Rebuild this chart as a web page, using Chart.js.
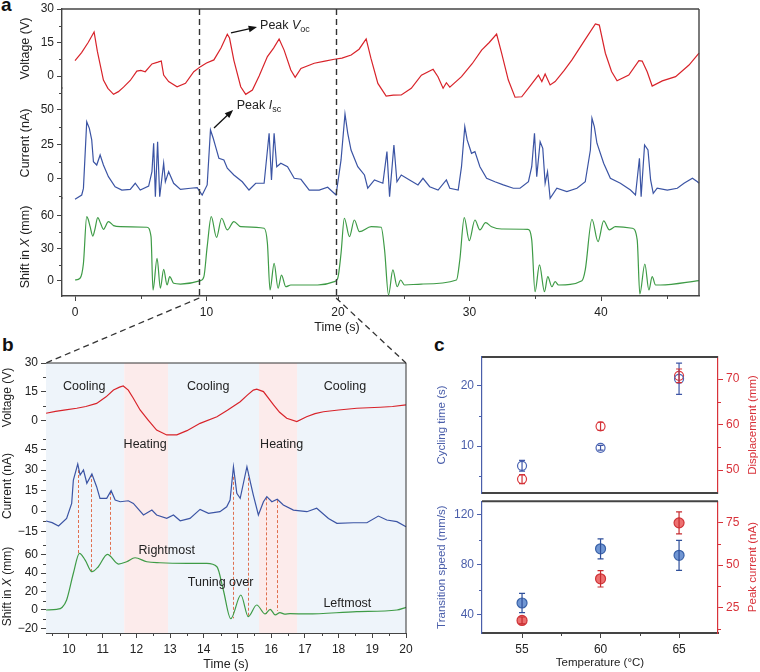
<!DOCTYPE html>
<html lang="en">
<head>
<meta charset="UTF-8">
<title>Voltage, current and shift traces</title>
<script src="https://cdn.jsdelivr.net/npm/chart.js"></script>
<style>
  html, body { margin: 0; padding: 0; background: #fff; }
  body { width: 760px; height: 672px; position: relative; overflow: hidden; font-family: "Liberation Sans", Arial, sans-serif; }
  canvas { position: absolute; }
  .tag { position: absolute; font-weight: bold; font-size: 19px; line-height: 22px; color: #111; }
</style>
</head>
<body>
<div class="tag" style="left:1px;top:-6px">a</div>
<div class="tag" style="left:2px;top:334px">b</div>
<div class="tag" style="left:434px;top:334px">c</div>
<canvas id="chartA" width="760" height="345" style="left:0;top:0"></canvas>
<canvas id="chartB" width="430" height="332" style="left:0;top:340px"></canvas>
<canvas id="chartC1" width="330" height="160" style="left:430px;top:340px"></canvas>
<canvas id="chartC2" width="330" height="177" style="left:430px;top:495px"></canvas>
<canvas id="overlay" width="760" height="672" style="left:0;top:0;pointer-events:none"></canvas>

<script>
// ---------- panel a data ----------
const aVoltT = [0, 0.5, 1.0, 1.45, 1.7, 2.16, 2.5, 2.93, 3.3, 3.69, 4.2, 4.7, 5.0, 5.34, 5.85, 6.3, 6.56, 6.74, 7.12, 7.76, 8.4, 9.03, 9.54, 10.0, 10.56, 11.1, 11.58, 11.75, 12.08, 12.6, 12.98, 13.49, 14.0, 14.63, 15.1, 15.52, 15.9, 16.41, 16.74, 17.18, 18.19, 19.0, 19.72, 20.3, 21.0, 21.6, 22.14, 22.5, 23.03, 23.66, 24.2, 24.81, 25.57, 26.34, 27.23, 27.6, 27.99, 28.24, 28.5, 29.39, 30.2, 30.92, 31.5, 32.06, 32.44, 32.95, 33.46, 33.97, 34.6, 35.24, 35.5, 35.75, 36.13, 36.51, 37.2, 37.79, 38.8, 39.57, 39.87, 40.33, 40.8, 41.22, 42.11, 42.88, 43.13, 43.51, 43.89, 44.66, 45.67, 46.69, 47.45];
const aVolt  = [6.9, 10.5, 15, 19.7, 11, -1.8, -5.5, -8.2, -7, -5, -2, 2.2, 2.5, 1.9, 5.4, 6.2, 6.7, 0.4, -2.5, -4.8, -3.3, 1.9, 4.2, 5.8, 7.2, 12.5, 18.7, 17, 7, -4.8, -8.2, -6.3, 0, 8.7, 12.5, 16.6, 11.6, 2.7, -0.6, 3.4, 5.7, 6.7, 7.5, 8, 9.4, 12, 16.6, 8, -3.3, -9, -8.6, -8.5, -5.5, 0.4, 3, -0.3, -5.5, -3, -5, -0.3, 5.5, 11.6, 15, 18.8, 10.2, -1.8, -9.5, -9.3, -4.5, 0.4, -2.5, 0.9, -4, -2.5, 2.5, 7.2, 16.4, 23.3, 22.8, 10.2, 2, -2.1, 0.4, 6.9, 6.7, 1.9, -4.5, -2.2, -0.3, 4.9, 10.2];

const aCurT = [0, 0.51, 0.64, 0.89, 1.09, 1.27, 1.4, 1.65, 1.91, 2.16, 2.54, 3.05, 3.56, 4.2, 4.58, 4.96, 5.6, 5.85, 5.98, 6.11, 6.28, 6.44, 6.74, 6.87, 7.12, 7.5, 8.02, 8.78, 9.29, 9.67, 10.05, 10.3, 10.51, 10.69, 10.94, 11.32, 11.58, 12.08, 12.72, 13.23, 13.74, 14.38, 14.76, 14.94, 15.14, 15.34, 15.65, 16.16, 16.67, 17.18, 17.81, 18.57, 19.21, 19.85, 20.23, 20.53, 20.74, 20.99, 21.5, 22.01, 22.26, 22.77, 23.41, 23.72, 23.92, 24.25, 24.48, 24.81, 25.44, 26.08, 26.46, 26.97, 27.61, 28.24, 28.5, 29.14, 29.39, 29.64, 29.82, 30.15, 30.41, 30.79, 31.3, 31.93, 32.57, 33.33, 33.84, 34.48, 34.73, 34.94, 35.11, 35.37, 35.57, 35.75, 35.93, 36.13, 36.64, 37.4, 38.17, 38.8, 39.19, 39.31, 39.49, 39.69, 40.2, 40.71, 41.47, 42.24, 42.62, 42.92, 43.05, 43.31, 43.57, 43.77, 43.97, 44.27, 45.04, 45.8, 46.31, 46.95, 47.33, 47.45];
const aCur  = [-14.7, -11.6, -6.8, 41.5, 36.7, 28.3, 12.5, 10.1, 17.4, 10.1, 1.7, -5.6, -8, -7.5, -3.1, -8, -5.1, 5.3, 25.9, -12.8, 27, -12.8, 11.4, -2, 5.3, -3.1, -7.5, -6.7, -6.3, -11.6, -4.3, 35.5, 29.5, 23.4, 15, 13.8, 7.8, 2.9, -2, -8, -3.1, -3.1, 33.1, -0.7, 33.1, 8.9, 11.4, 8.9, 0.5, -0.2, -8, -8, -6, -11.6, 13.8, 47.1, 33.1, 21, 8.9, 2.9, -6.7, -0.7, -3.1, 19.8, -12.8, 24.6, -2, 2.9, -0.7, -4.3, 0.5, -5.6, -8, -0.7, -6.7, -8, 8.9, 37.9, 28.3, 18.6, 19.8, 8.9, 0.5, -2, -4.3, -6.7, -6.7, -2, 8.9, 33.1, 1.7, 27, 22.2, -3.1, 5.3, -14, -6.7, -9.2, -6.7, -2, 21, 44, 37.9, 25.9, 11.4, 0.5, -3.1, -8, -11.6, 15, -12.8, 24.6, 21, -0.7, -10.4, -6.7, -8, -6.7, -3.1, 0.5, -2, -3.1];

const aShiftT = [0, 0.38, 0.64, 0.89, 1.0, 1.15, 1.35, 1.5, 1.73, 1.95, 2.16, 2.54, 2.93, 3.44, 5.47, 5.78, 5.93, 6.24, 6.49, 6.74, 7.0, 7.2, 7.5, 8.02, 9.54, 9.8, 10.05, 10.36, 10.76, 11.15, 11.58, 12.08, 12.6, 14.38, 14.63, 14.83, 15.14, 15.44, 15.7, 16.03, 16.41, 18.45, 19.72, 19.98, 20.23, 20.48, 20.87, 21.24, 21.63, 22.52, 23.28, 23.54, 23.84, 24.17, 24.5, 24.76, 25.06, 26.34, 29.01, 29.26, 29.6, 29.98, 30.41, 30.79, 31.22, 31.68, 32.44, 34.43, 34.73, 34.98, 35.32, 35.7, 35.95, 36.26, 36.51, 36.77, 38.55, 38.8, 39.31, 39.77, 40.2, 40.64, 41.09, 42.37, 42.75, 42.95, 43.33, 43.64, 43.89, 44.15, 44.53, 47.45];
const aShift  = [0.9, 2.5, 16.3, 59.4, 57, 50.1, 41.5, 47, 58.5, 53, 47.7, 54.8, 51.1, 50.1, 49.6, 40.9, -8.3, 21, -6.7, 10.8, -3.7, 4, -2.1, -2.8, 0.3, 4, 31.7, 59.4, 40.3, 57.9, 47.1, 54.8, 50.1, 48.7, 34.8, -8.3, 16.3, -6.7, 5.5, -5.3, -3.7, -3.7, -0.6, 2.5, 25.6, 57.9, 40.9, 56.3, 45.5, 50.1, 49.6, 28.6, -12.9, 10.2, -5.3, 0.9, -3.7, -2.8, 0.9, 19.4, 58.5, 37.2, 56.3, 47.1, 53.8, 50.1, 48, 47.7, 37.9, -9.9, 14.8, -9.9, 4, -5.3, -0.6, -3.7, 0.3, 10.2, 57, 36.3, 55.4, 47.1, 50.1, 48.7, 37.9, -12, 15.7, -8.3, 4, -3.7, -3.7, 0.3];

const aCutT = [9.45, 19.85];
const aXTicks = [0, 10, 20, 30, 40];
const aXMinor = [5, 15, 25, 35, 45];
const aVTicks = [0, 15, 30];
const aVMinor = [7.5, 22.5];
const aITicks = [0, 25, 50];
const aIMinor = [-12.5, 12.5, 37.5, 62.5];
const aSTicks = [0, 30, 60];
const aSMinor = [15, 45];

// ---------- panel b data ----------
const bVoltT = [9.32, 9.6, 9.9, 10.23, 10.5, 10.82, 11.1, 11.32, 11.5, 11.61, 11.76, 11.9, 12.11, 12.35, 12.6, 12.9, 13.2, 13.5, 13.89, 14.39, 14.7, 15.08, 15.3, 15.47, 15.57, 15.77, 16.07, 16.25, 16.46, 16.76, 17.05, 17.3, 17.55, 18.0, 18.54, 19.23, 19.6, 20];
const bVolt  = [4, 5, 5.8, 6.6, 7.5, 9.1, 12.5, 16, 17.5, 18.1, 16, 12, 5.7, 0.5, -4.7, -7.2, -7.2, -5, -1.2, 2.2, 5.5, 10, 13.5, 16, 16.5, 15.2, 8.3, 4.5, 1.4, -0.3, 2.2, 3.8, 4.8, 5.7, 6.6, 7.1, 7.5, 8.3];

const bCurT = [9.32, 9.5, 9.69, 9.93, 10.08, 10.13, 10.26, 10.33, 10.43, 10.53, 10.68, 10.82, 10.92, 11.12, 11.25, 11.37, 11.52, 11.76, 11.91, 12.21, 12.46, 12.6, 12.9, 13.1, 13.3, 13.59, 13.89, 14.14, 14.48, 14.68, 14.78, 14.88, 14.98, 15.08, 15.28, 15.39, 15.47, 15.62, 15.77, 15.87, 16.02, 16.18, 16.36, 16.66, 17.06, 17.35, 17.7, 17.95, 18.44, 18.84, 19.18, 19.43, 19.73, 20];
const bCur  = [-7.3, -8.5, -11, -5.4, 5.6, 22.7, 34.4, 26.3, 30, 20.3, 27.1, 17.8, 9.3, 9.3, 14.9, 8, 6.8, 7.5, 5.6, -2.9, 0.7, -2.9, -5.4, -2.9, -7.1, -5.4, 1.2, -1.7, -0.5, 3.1, 8, 32.4, 12.9, 9.3, 32.4, 20.3, 11.7, -2.9, 6.8, 10.5, 6.8, 8.6, 4.4, 0.7, -0.5, 2, -5.4, -9, -8.6, -8.6, -3.7, -6.6, -7.8, -11.5];

const bShiftT = [9.32, 9.64, 9.8, 9.93, 10.13, 10.31, 10.48, 10.68, 10.87, 11.14, 11.47, 11.71, 11.96, 12.31, 12.7, 13.5, 14.09, 14.39, 14.58, 14.8, 15.1, 15.32, 15.57, 15.82, 15.97, 16.12, 16.26, 16.4, 16.56, 17.06, 18.54, 19.73, 20];
const bShift  = [0, 0.7, 3, 10.8, 39.7, 61.3, 54, 41.4, 46.8, 60.2, 49.7, 52.2, 56.5, 52.2, 51.1, 50.5, 50.5, 46.8, 21.6, -9.5, 16.2, -7.2, 5.4, -4.3, 0.7, -5.4, -2.9, -4.5, -4, -4.3, -1.8, 0, 2.9];

const bBandStart = [9.318, 11.64, 12.94, 15.64, 16.77];
const bBandEnd   = [11.64, 12.94, 15.64, 16.77, 20];
const bBandKind  = ['cool', 'heat', 'cool', 'heat', 'cool'];

const guideT    = [10.27, 10.66, 11.22, 14.87, 15.3, 15.85, 16.17];
const guideTopI = [30, 27, 14, 25, 28, 10, 8];
const guideBotS = [61, 41, 60, -9, -7, -4, -1];

const bXTicks = [10, 11, 12, 13, 14, 15, 16, 17, 18, 19, 20];
const bXMinor = [9.5, 10.5, 11.5, 12.5, 13.5, 14.5, 15.5, 16.5, 17.5, 18.5, 19.5];
const bVTicks = [0, 15, 30];
const bVMinor = [7.5, 22.5];
const bITicks = [-15, 0, 15, 30, 45];
const bIMinor = [-7.5, 7.5, 22.5, 37.5, 52.5];
const bSTicks = [-20, 0, 20, 40, 60];
const bSMinor = [-10, 10, 30, 50, 70];

// ---------- panel c data ----------
const cTemps = [55, 60, 65];
const cCycle = [6.7, 9.7, 21.2];
const cCycleErr = [0.9, 0.4, 2.6];
const cDisp = [48.0, 59.6, 70.7];
const cDispErr = [1.0, 0.9, 1.5];
const cSpeed = [49.3, 92.7, 87.5];
const cSpeedErr = [7.7, 8, 12];
const cPeak = [17.6, 42, 74.8];
const cPeakErr = [2, 4.8, 6.5];

const cXTicks = [55, 60, 65];
const cXMinor = [57.5, 62.5];
const cCycleTicks = [10, 20];
const cCycleMinor = [5, 15];
const cDispTicks = [50, 60, 70];
const cDispMinor = [55, 65];
const cSpeedTicks = [40, 80, 120];
const cSpeedMinor = [60, 100];
const cPeakTicks = [25, 50, 75];
const cPeakMinor = [12.5, 37.5, 62.5];

// ---------- styling ----------
const FONT = '"Liberation Sans", Arial, sans-serif';
const RED = '#d8232a', BLUE = '#3b54a4', GREEN = '#3e9b46';
const INK = '#222', AXIS = '#444';
const C_BLUE = '#4a5eaa', C_RED = '#d8323a';

function pts(xs, ys) { return xs.map((x, i) => ({x: x, y: ys[i]})); }
function setTicks(vals) { return s => { s.ticks = vals.map(v => ({value: v})); }; }
function fmt(v) { return v < 0 ? '\u2212' + Math.abs(v) : String(v); }

function fitTo(w, h) {
  return s => {
    if (w != null) s.width = w;
    if (h != null) s.height = h;
    s.paddingTop = s.paddingBottom = s.paddingLeft = s.paddingRight = 0;
  };
}

function yAxis(o) {
  return {
    type: 'linear', position: o.position || 'left', stack: o.stack, stackWeight: o.weight,
    min: o.min, max: o.max,
    afterBuildTicks: setTicks(o.ticks),
    afterFit: fitTo(o.width, null),
    border: {color: o.color || AXIS, width: o.bw || 1.4},
    grid: {drawOnChartArea: false, tickLength: 5, color: o.color || AXIS},
    ticks: {color: o.tickColor || INK, font: {family: FONT, size: 12}, padding: 3, autoSkip: false, callback: fmt}
  };
}

function xAxis(o) {
  return {
    type: 'linear', position: 'bottom', min: o.min, max: o.max, display: o.display !== false,
    afterBuildTicks: setTicks(o.ticks),
    afterFit: fitTo(null, o.height),
    border: {color: AXIS, width: o.bw || 1.4},
    grid: {drawOnChartArea: false, tickLength: 5, color: AXIS},
    ticks: {color: INK, font: {family: FONT, size: 12}, padding: 4, autoSkip: false, maxRotation: 0, callback: fmt},
    title: o.title ? {display: true, text: o.title, color: INK, font: {family: FONT, size: o.titleSize || 12.5}, padding: {top: 0, bottom: o.titlePad || 0}} : {display: false}
  };
}

// stacked axes clip each dataset to its own strip, so clipping is turned off
function line(xs, ys, axis, color, smooth) {
  return {
    data: pts(xs, ys), yAxisID: axis, borderColor: color, borderWidth: 1.2,
    pointRadius: 0, fill: false, tension: 0, clip: false,
    cubicInterpolationMode: smooth ? 'monotone' : 'default'
  };
}

// text with italic / subscript pieces
function drawParts(ctx, x, y, parts, size, align) {
  const fontOf = st => (st === 'italic' ? 'italic ' : '') + (st === 'sub' ? Math.round(size * 0.72) : size) + 'px ' + FONT;
  let w = 0;
  for (const [t, st] of parts) { ctx.font = fontOf(st); w += ctx.measureText(t).width; }
  let cx = align === 'center' ? x - w / 2 : x;
  ctx.textAlign = 'left';
  ctx.textBaseline = 'middle';
  for (const [t, st] of parts) {
    ctx.font = fontOf(st);
    ctx.fillText(t, cx, st === 'sub' ? y + size * 0.32 : y);
    cx += ctx.measureText(t).width;
  }
}

function minorTicks(spec) {
  return {
    id: 'minorTicks',
    afterDraw(chart) {
      const ctx = chart.ctx;
      ctx.save();
      ctx.lineWidth = 1;
      for (const id in spec) {
        const s = chart.scales[id];
        if (!s || !s.options.display) continue;
        ctx.strokeStyle = s.options.border.color;
        for (const v of spec[id]) {
          if (v < s.min || v > s.max) continue;
          const p = Math.round(s.getPixelForValue(v)) + 0.5;
          ctx.beginPath();
          if (s.isHorizontal()) { ctx.moveTo(p, s.top); ctx.lineTo(p, s.top + 3); }
          else if (s.position === 'left') { ctx.moveTo(s.right, p); ctx.lineTo(s.right - 3, p); }
          else { ctx.moveTo(s.left, p); ctx.lineTo(s.left + 3, p); }
          ctx.stroke();
        }
      }
      ctx.restore();
    }
  };
}

function frame(sides) {
  return {
    id: 'frame',
    afterDraw(chart) {
      const a = chart.chartArea, ctx = chart.ctx;
      ctx.save();
      for (const side in sides) {
        const [color, w] = sides[side];
        ctx.strokeStyle = color; ctx.lineWidth = w;
        ctx.beginPath();
        if (side === 'top') { ctx.moveTo(a.left, a.top); ctx.lineTo(a.right, a.top); }
        if (side === 'bottom') { ctx.moveTo(a.left, a.bottom); ctx.lineTo(a.right, a.bottom); }
        if (side === 'right') { ctx.moveTo(a.right, a.top); ctx.lineTo(a.right, a.bottom); }
        ctx.stroke();
      }
      ctx.restore();
    }
  };
}

function sideTitles(list) {
  return {
    id: 'sideTitles',
    afterDraw(chart) {
      const ctx = chart.ctx;
      for (const t of list) {
        const s = chart.scales[t.scale];
        const cy = (s.top + s.bottom) / 2;
        const cx = s.position === 'left' ? s.left + t.gap : s.right - t.gap;
        ctx.save();
        ctx.fillStyle = t.color || INK;
        ctx.translate(cx, cy);
        ctx.rotate(-Math.PI / 2);
        drawParts(ctx, 0, 0, t.parts, t.size || 12.5, 'center');
        ctx.restore();
      }
    }
  };
}

function arrow(ctx, x1, y1, x2, y2) {
  const ang = Math.atan2(y2 - y1, x2 - x1);
  ctx.beginPath(); ctx.moveTo(x1, y1); ctx.lineTo(x2 - 6 * Math.cos(ang), y2 - 6 * Math.sin(ang)); ctx.stroke();
  ctx.beginPath();
  ctx.moveTo(x2, y2);
  ctx.lineTo(x2 - 9 * Math.cos(ang - 0.38), y2 - 9 * Math.sin(ang - 0.38));
  ctx.lineTo(x2 - 9 * Math.cos(ang + 0.38), y2 - 9 * Math.sin(ang + 0.38));
  ctx.closePath(); ctx.fill();
}

const baseOpts = {
  responsive: false, animation: false, events: [],
  plugins: {legend: {display: false}, tooltip: {enabled: false}}
};

// ---------- panel a ----------
const notesA = {
  id: 'notesA',
  afterDraw(chart) {
    const ctx = chart.ctx, x = chart.scales.x, a = chart.chartArea;
    const yV = chart.scales.yV, yI = chart.scales.yI;
    ctx.save();
    ctx.strokeStyle = '#333'; ctx.lineWidth = 1.4; ctx.setLineDash([6, 4]);
    for (const t of aCutT) {
      const px = Math.round(x.getPixelForValue(t)) + 0.5;
      ctx.beginPath(); ctx.moveTo(px, a.top); ctx.lineTo(px, a.bottom); ctx.stroke();
    }
    ctx.setLineDash([]);
    ctx.fillStyle = '#111'; ctx.strokeStyle = '#111'; ctx.lineWidth = 1.3;
    arrow(ctx, x.getPixelForValue(11.86), yV.getPixelForValue(19.3), x.getPixelForValue(13.84), yV.getPixelForValue(21.9));
    arrow(ctx, x.getPixelForValue(10.57), yI.getPixelForValue(37), x.getPixelForValue(12.02), yI.getPixelForValue(50));
    ctx.fillStyle = INK;
    drawParts(ctx, x.getPixelForValue(14.07), yV.getPixelForValue(22.8), [['Peak ', ''], ['V', 'italic'], ['oc', 'sub']], 12.5, 'left');
    drawParts(ctx, x.getPixelForValue(12.3), yI.getPixelForValue(52.9), [['Peak ', ''], ['I', 'italic'], ['sc', 'sub']], 12.5, 'left');
    drawParts(ctx, 337, 328, [['Time (s)', '']], 12.5, 'center');
    ctx.restore();
  }
};

const chartA = new Chart(document.getElementById('chartA'), {
  type: 'line',
  data: {datasets: [
    line(aShiftT, aShift, 'yS', GREEN, true),
    line(aCurT, aCur, 'yI', BLUE),
    line(aVoltT, aVolt, 'yV', RED)
  ]},
  options: Object.assign({}, baseOpts, {
    layout: {padding: {top: 9, right: 61, left: 0, bottom: 0}},
    scales: {
      x: xAxis({min: -0.99, max: 47.45, ticks: aXTicks, height: 49}),
      yS: yAxis({stack: 'a', weight: 98, min: -13.85, max: 76.6, ticks: aSTicks, width: 62}),
      yI: yAxis({stack: 'a', weight: 110, min: -13.77, max: 65.9, ticks: aITicks, width: 62}),
      yV: yAxis({stack: 'a', weight: 79, min: -5.37, max: 30.0, ticks: aVTicks, width: 62})
    }
  }),
  plugins: [
    frame({top: [AXIS, 1.4], right: [AXIS, 1.4]}),
    minorTicks({x: aXMinor, yV: aVMinor, yI: aIMinor, yS: aSMinor}),
    sideTitles([
      {scale: 'yV', gap: 26, parts: [['Voltage (V)', '']]},
      {scale: 'yI', gap: 26, parts: [['Current (nA)', '']]},
      {scale: 'yS', gap: 26, parts: [['Shift in ', ''], ['X', 'italic'], [' (mm)', '']]}
    ]),
    notesA
  ]
});

// ---------- panel b ----------
const bandsB = {
  id: 'bandsB',
  beforeDatasetsDraw(chart) {
    const ctx = chart.ctx, x = chart.scales.x, a = chart.chartArea;
    ctx.save();
    bBandStart.forEach((t0, i) => {
      const x0 = x.getPixelForValue(t0), x1 = x.getPixelForValue(bBandEnd[i]);
      ctx.fillStyle = bBandKind[i] === 'heat' ? '#fcebeb' : '#eef4fa';
      ctx.fillRect(x0, a.top, x1 - x0, a.bottom - a.top);
    });
    ctx.strokeStyle = '#e0704f'; ctx.lineWidth = 1; ctx.setLineDash([3, 2]);
    const yI = chart.scales.yI, yS = chart.scales.yS;
    guideT.forEach((t, i) => {
      const px = Math.round(x.getPixelForValue(t)) + 0.5;
      ctx.beginPath(); ctx.moveTo(px, yI.getPixelForValue(guideTopI[i])); ctx.lineTo(px, yS.getPixelForValue(guideBotS[i])); ctx.stroke();
    });
    ctx.restore();
  },
  afterDraw(chart) {
    const ctx = chart.ctx, x = chart.scales.x;
    const yV = chart.scales.yV, yI = chart.scales.yI, yS = chart.scales.yS;
    const notes = [
      ['Cooling', 10.45, yV, 17.7], ['Cooling', 14.13, yV, 17.7], ['Cooling', 18.19, yV, 17.7],
      ['Heating', 12.26, yI, 48.3], ['Heating', 16.31, yI, 48.3],
      ['Rightmost', 12.9, yS, 63.8], ['Tuning over', 14.5, yS, 29.5], ['Leftmost', 18.26, yS, 7.2]
    ];
    ctx.save();
    ctx.fillStyle = INK;
    for (const [txt, t, s, v] of notes) drawParts(ctx, x.getPixelForValue(t), s.getPixelForValue(v), [[txt, '']], 12.5, 'center');
    ctx.restore();
  }
};

const chartB = new Chart(document.getElementById('chartB'), {
  type: 'line',
  data: {datasets: [
    line(bShiftT, bShift, 'yS', GREEN, true),
    line(bCurT, bCur, 'yI', BLUE),
    line(bVoltT, bVolt, 'yV', RED)
  ]},
  options: Object.assign({}, baseOpts, {
    layout: {padding: {top: 23, right: 24, left: 0, bottom: 0}},
    scales: {
      x: xAxis({min: 9.318, max: 20, ticks: bXTicks, height: 39, title: 'Time (s)', bw: 1}),
      yS: yAxis({stack: 'b', weight: 93, min: -24.9, max: 75.7, ticks: bSTicks, width: 46, bw: 1}),
      yI: yAxis({stack: 'b', weight: 108, min: -21.2, max: 57.8, ticks: bITicks, width: 46, bw: 1}),
      yV: yAxis({stack: 'b', weight: 69, min: -5.69, max: 30.0, ticks: bVTicks, width: 46, bw: 1})
    }
  }),
  plugins: [
    bandsB,
    frame({top: ['#333', 1], right: ['#333', 1]}),
    minorTicks({x: bXMinor, yV: bVMinor, yI: bIMinor, yS: bSMinor}),
    sideTitles([
      {scale: 'yV', gap: 8, size: 12, parts: [['Voltage (V)', '']]},
      {scale: 'yI', gap: 8, size: 12, parts: [['Current (nA)', '']]},
      {scale: 'yS', gap: 8, size: 12, parts: [['Shift in ', ''], ['X', 'italic'], [' (mm)', '']]}
    ])
  ]
});

// ---------- panel c ----------
function errorBars(spec) {
  return {
    id: 'errorBars',
    afterDatasetsDraw(chart) {
      const ctx = chart.ctx;
      ctx.save();
      ctx.lineWidth = 1.2;
      for (const i in spec) {
        const ds = chart.data.datasets[i];
        const meta = chart.getDatasetMeta(i);
        const ys = chart.scales[ds.yAxisID];
        ctx.strokeStyle = spec[i].color;
        ds.data.forEach((p, j) => {
          const px = meta.data[j].x;
          const y1 = ys.getPixelForValue(p.y - spec[i].err[j]);
          const y2 = ys.getPixelForValue(p.y + spec[i].err[j]);
          ctx.beginPath();
          ctx.moveTo(px, y1); ctx.lineTo(px, y2);
          ctx.moveTo(px - 3, y1); ctx.lineTo(px + 3, y1);
          ctx.moveTo(px - 3, y2); ctx.lineTo(px + 3, y2);
          ctx.stroke();
        });
      }
      ctx.restore();
    }
  };
}

function dots(xs, ys, axis, stroke, fill) {
  return {data: pts(xs, ys), yAxisID: axis, pointRadius: fill ? 5 : 4.5, pointBorderWidth: 1.2, clip: false,
    pointBorderColor: stroke, pointBackgroundColor: fill || 'rgba(255,255,255,0)', showLine: false};
}

const chartC1 = new Chart(document.getElementById('chartC1'), {
  type: 'scatter',
  data: {datasets: [
    dots(cTemps, cCycle, 'yL', '#4a64b4'),
    dots(cTemps, cDisp, 'yR', '#dc3a3e')
  ]},
  options: Object.assign({}, baseOpts, {
    layout: {padding: {top: 17, right: 0, left: 0, bottom: 7}},
    scales: {
      x: xAxis({min: 52.45, max: 67.48, ticks: cXTicks, display: false}),
      yL: yAxis({min: 2.17, max: 24.83, ticks: cCycleTicks, width: 52, color: C_BLUE, tickColor: C_BLUE, bw: 1.2}),
      yR: yAxis({position: 'right', min: 44.95, max: 74.84, ticks: cDispTicks, width: 42, color: C_RED, tickColor: C_RED, bw: 1.2})
    }
  }),
  plugins: [
    frame({top: ['#444', 2], bottom: ['#444', 2]}),
    minorTicks({yL: cCycleMinor, yR: cDispMinor}),
    errorBars({0: {err: cCycleErr, color: '#3f56a6'}, 1: {err: cDispErr, color: '#d23238'}}),
    sideTitles([
      {scale: 'yL', gap: 12, size: 11.5, color: C_BLUE, parts: [['Cycling time (s)', '']]},
      {scale: 'yR', gap: 7.5, size: 11.5, color: C_RED, parts: [['Displacement (mm)', '']]}
    ])
  ]
});

const chartC2 = new Chart(document.getElementById('chartC2'), {
  type: 'scatter',
  data: {datasets: [
    dots(cTemps, cSpeed, 'yL', '#3a62a8', 'rgba(76,124,200,0.8)'),
    dots(cTemps, cPeak, 'yR', '#cf3438', 'rgba(232,76,76,0.8)')
  ]},
  options: Object.assign({}, baseOpts, {
    layout: {padding: {top: 2, right: 0, left: 0, bottom: 0}},
    scales: {
      x: xAxis({min: 52.45, max: 67.48, ticks: cXTicks, height: 39, title: 'Temperature (\u00b0C)', titleSize: 11.5, titlePad: 2, bw: 2}),
      yL: yAxis({min: 25.27, max: 130.85, ticks: cSpeedTicks, width: 52, color: C_BLUE, tickColor: C_BLUE, bw: 1.2}),
      yR: yAxis({position: 'right', min: 10.23, max: 87.5, ticks: cPeakTicks, width: 42, color: C_RED, tickColor: C_RED, bw: 1.2})
    }
  }),
  plugins: [
    frame({top: ['#444', 2]}),
    minorTicks({x: cXMinor, yL: cSpeedMinor, yR: cPeakMinor}),
    errorBars({0: {err: cSpeedErr, color: '#2f4f9a'}, 1: {err: cPeakErr, color: '#c62c30'}}),
    sideTitles([
      {scale: 'yL', gap: 12, size: 11.5, color: C_BLUE, parts: [['Transition speed (mm/s)', '']]},
      {scale: 'yR', gap: 7.5, size: 11.5, color: C_RED, parts: [['Peak current (nA)', '']]}
    ])
  ]
});

// ---------- zoom connectors between a and b ----------
(function () {
  const ctx = document.getElementById('overlay').getContext('2d');
  const bTopOffset = 340;
  const ax = chartA.scales.x, aBottom = chartA.chartArea.bottom, bArea = chartB.chartArea;
  ctx.strokeStyle = '#333'; ctx.lineWidth = 1.3; ctx.setLineDash([6, 4]);
  ctx.beginPath();
  ctx.moveTo(ax.getPixelForValue(aCutT[0]), aBottom + 2); ctx.lineTo(bArea.left, bArea.top + bTopOffset);
  ctx.moveTo(ax.getPixelForValue(aCutT[1]), aBottom + 2); ctx.lineTo(bArea.right, bArea.top + bTopOffset);
  ctx.stroke();
})();
</script>
</body>
</html>
